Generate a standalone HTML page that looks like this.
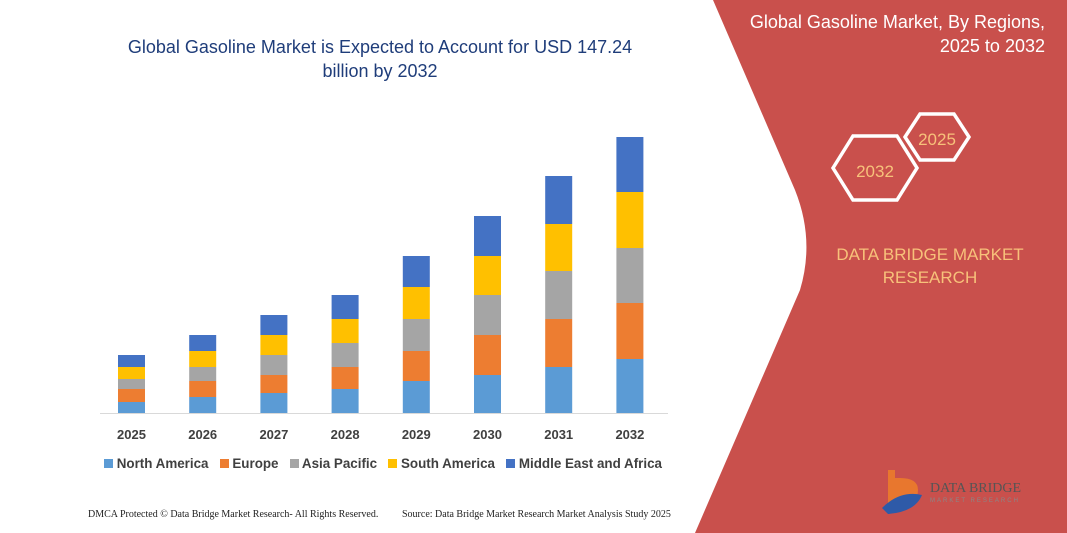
<!DOCTYPE html>
<html><head><style>
body{margin:0;width:1067px;height:533px;overflow:hidden;background:#fff;font-family:"Liberation Sans",sans-serif;position:relative}
.t{position:absolute}
</style></head><body>
<svg width="1067" height="533" style="position:absolute;left:0;top:0">
<path d="M713,0 L795,190 Q815,240 800,290 L695,533 L1067,533 L1067,0Z" fill="#c9504c"/>
<line x1="100" y1="413.5" x2="668" y2="413.5" stroke="#d9d9d9" stroke-width="1"/>
<g id="bars"></g>
<polygon points="905,137 920,114 954,114 969,137 954,160 920,160" fill="none" stroke="#fff" stroke-width="3.5"/>
<polygon points="833,168 853,136 897,136 917,168 897,200 853,200" fill="none" stroke="#fff" stroke-width="3.5"/>
<text x="937" y="145" font-size="17" fill="#f7c17a" text-anchor="middle" font-family="Liberation Sans">2025</text>
<text x="875" y="177" font-size="17" fill="#f7c17a" text-anchor="middle" font-family="Liberation Sans">2032</text>
<text x="930" y="260" font-size="17" fill="#f7c17a" text-anchor="middle">DATA BRIDGE MARKET</text>
<text x="930" y="283" font-size="17" fill="#f7c17a" text-anchor="middle">RESEARCH</text>
<text x="1045" y="28" font-size="18" fill="#fff" text-anchor="end">Global Gasoline Market, By Regions,</text>
<text x="1045" y="52" font-size="18" fill="#fff" text-anchor="end">2025 to 2032</text>
<path d="M888,470 L888,505 L900,505 Q918,505 918,490 Q918,478 900,478 L895,478 L895,470Z" fill="#e8772e"/>
<path d="M882,508 Q900,490 922,495 Q915,512 888,514Z" fill="#2e5aa8"/>
<text x="930" y="492" font-size="14" fill="#555" font-family="Liberation Serif">DATA BRIDGE</text>
<text x="930" y="502" font-size="6" fill="#888" letter-spacing="2">MARKET RESEARCH</text>
</svg>
<script>
var b=[[355,367,379,389,402],[335,351,367,381,397],[315,335,355,375,393],[295,319,343,367,389],[256,287,319,351,381],[216,256,295,335,375],[176,224,271,319,367],[137,192,248,303,359]];
var c=["#4472c4","#ffc000","#a5a5a5","#ed7d31","#5b9bd5"];
var s="";
for(var i=0;i<8;i++){var x=118+i*71.2;for(var j=0;j<5;j++){var y0=b[i][j],y1=j<4?b[i][j+1]:413;s+='<rect x="'+x+'" y="'+y0+'" width="27" height="'+(y1-y0)+'" fill="'+c[j]+'"/>';}
s+='<text x="'+(x+13.5)+'" y="439" font-size="13" font-weight="bold" fill="#404040" text-anchor="middle" font-family="Liberation Sans">'+(2025+i)+'</text>';}
document.getElementById("bars").innerHTML=s;
</script>
<div class="t" style="left:80px;top:35px;width:600px;text-align:center;font-size:18px;color:#1f3d7a;line-height:24px">Global Gasoline Market is Expected to Account for USD 147.24<br>billion by 2032</div>
<div class="t" style="left:104px;top:456px;font-size:13.4px;font-weight:bold;color:#404040;white-space:nowrap">
<span style="display:inline-block;width:9px;height:9px;background:#5b9bd5"></span> North America &nbsp;
<span style="display:inline-block;width:9px;height:9px;background:#ed7d31"></span> Europe &nbsp;
<span style="display:inline-block;width:9px;height:9px;background:#a5a5a5"></span> Asia Pacific &nbsp;
<span style="display:inline-block;width:9px;height:9px;background:#ffc000"></span> South America &nbsp;
<span style="display:inline-block;width:9px;height:9px;background:#4472c4"></span> Middle East and Africa</div>
<div class="t" style="left:88px;top:509px;font-size:10px;font-family:'Liberation Serif',serif;color:#222">DMCA Protected © Data Bridge Market Research- All Rights Reserved.</div>
<div class="t" style="left:402px;top:509px;font-size:10px;font-family:'Liberation Serif',serif;color:#222">Source: Data Bridge Market Research Market Analysis Study 2025</div>
</body></html>
